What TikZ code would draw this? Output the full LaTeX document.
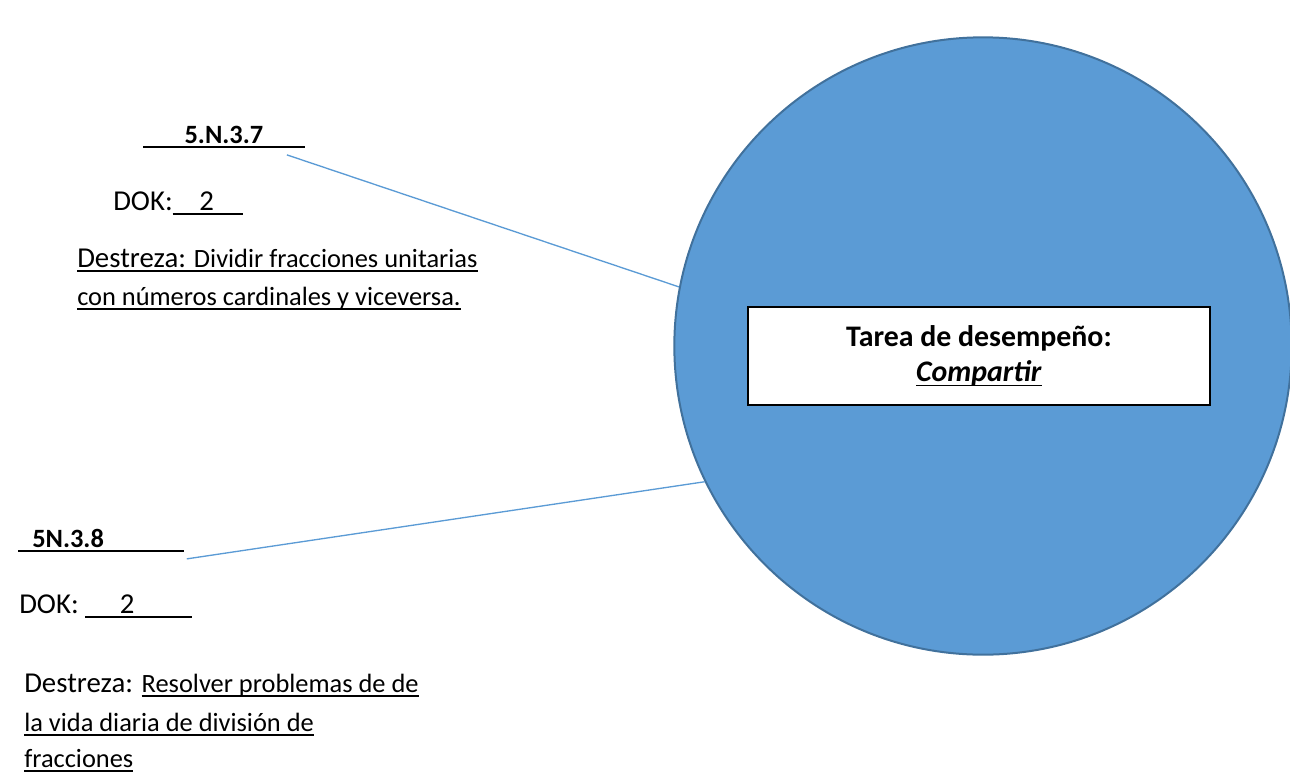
\documentclass[tikz,border=0pt]{standalone}
\usepackage{fontspec}
\setmainfont{Carlito}
\usepackage{tikz}
\definecolor{circfill}{RGB}{91,155,213}
\definecolor{circline}{RGB}{65,113,156}
\newcommand{\undl}[1]{\leavevmode\vtop{\hbox{\raisebox{0pt}[\height][0pt]{#1}}\kern2.4pt\hrule height 1.3pt}}

\begin{document}
\begin{tikzpicture}[x=0.75pt,y=-0.75pt,
    txt node/.style={anchor=base west,inner sep=0pt,font=\fontsize{19.8}{24}\selectfont},
    big node/.style={txt node,font=\fontsize{21.6}{26}\selectfont},
    code node/.style={txt node,font=\fontsize{19.8}{24}\selectfont\bfseries},
    link/.style={circfill,line width=1pt}]
  \useasboundingbox (0,0) rectangle (1290,775);

  \node[circle,fill=circfill,draw=circline,line width=1.5pt,minimum size=463pt] (tarea) at (983,346) {};
  \node[draw,fill=white,line width=1.5pt,minimum width=346.5pt,minimum height=73.5pt,
        align=center,font=\fontsize{22.4}{26}\selectfont\bfseries] (box) at (979,356)
        {Tarea de desempeño:\\ \undl{\textit{Compartir}}};

  % first standard
  \node[code node] (std1) at (143,143) {\undl{\hspace*{31pt}5.N.3.7\hspace*{31pt}}};
  \node[big node] (dok1) at (113,210) {DOK:\undl{\makebox[53pt][l]{\hspace*{20pt}2}}};
  \node[txt node] (des1a) at (77,267) {\undl{{\fontsize{21.6}{26}\selectfont Destreza:} Dividir fracciones unitarias}};
  \node[txt node] (des1b) at (77,305) {\undl{con números cardinales y viceversa.}};

  % second standard
  \node[code node] (std2) at (18,547) {\undl{\hspace*{10.5pt}5N.3.8\hspace*{60pt}}};
  \node[big node] (dok2) at (19,613) {DOK: \undl{\makebox[80pt][l]{\hspace*{26pt}2}}};
  \node[big node] (des2a) at (24,692) {Destreza: {\fontsize{19.8}{24}\selectfont\undl{Resolver problemas de de}}};
  \node[txt node] (des2b) at (24,731) {\undl{la vida diaria de división de}};
  \node[txt node] (des2c) at (24,767) {\undl{fracciones}};

  \coordinate (s1) at ([xshift=-13.5pt,yshift=-5pt]std1.south east);
  \coordinate (s2) at ([xshift=2pt,yshift=-5pt]std2.south east);
  \path[link] (s1) edge (tarea.169)
              (s2) edge (tarea.206);
\end{tikzpicture}
\end{document}
